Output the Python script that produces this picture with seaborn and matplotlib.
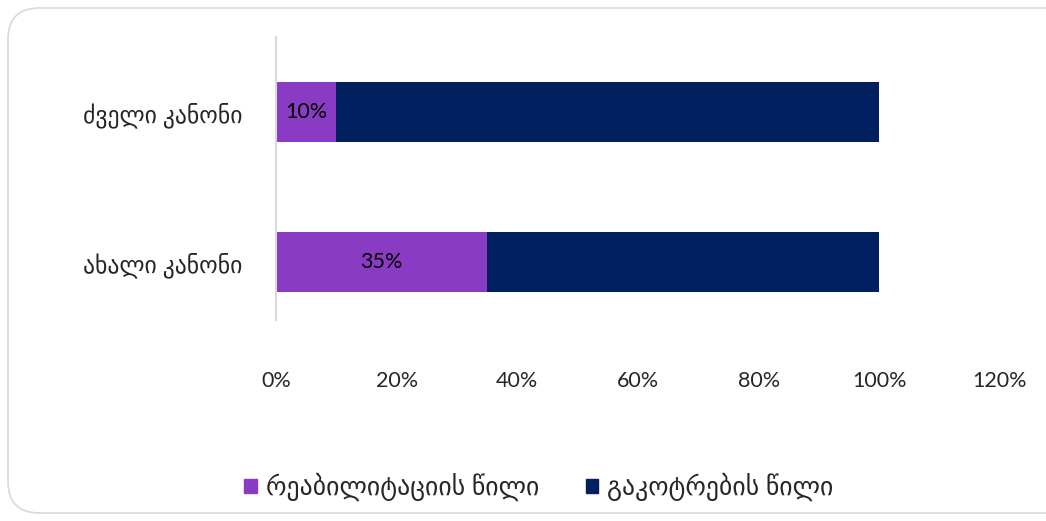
import matplotlib
matplotlib.use("Agg")
import matplotlib.pyplot as plt
from matplotlib.patches import FancyBboxPatch, Patch
import seaborn as sns
import pandas as pd

# data
categories = ["ძველი კანონი", "ახალი კანონი"]
rehab_share = [10, 35]
usage_share = [90, 65]
series_names = ["რეაბილიტაციის წილი", "გაკოტრების წილი"]
x_ticks = [0, 20, 40, 60, 80, 100, 120]

PURPLE = "#8A3BC3"
NAVY = "#002060"

sns.set_theme(style="white")
plt.rcParams["font.family"] = ["Lato", "DejaVu Sans"]

df = pd.DataFrame({
    "category": categories,
    "rehab": rehab_share,
    "usage": usage_share,
})
df["total"] = df["rehab"] + df["usage"]

fig = plt.figure(figsize=(10.46, 5.21), dpi=100)
ax = fig.add_axes([276 / 1046, 1 - 320 / 521, (1000 - 276) / 1046, (320 - 37) / 521])

# stacked: full bar first, rehab share drawn over it
sns.barplot(data=df, y="category", x="total", color=NAVY, width=0.4,
            orient="h", ax=ax, saturation=1, linewidth=0)
sns.barplot(data=df, y="category", x="rehab", color=PURPLE, width=0.4,
            orient="h", ax=ax, saturation=1, linewidth=0)

for i, v in enumerate(df["rehab"]):
    ax.text(v / 2, i, f"{v}%", ha="center", va="center",
            fontsize=15.5, color="black")

ax.set_xlim(0, 120)
ax.set_ylim(1.387, -0.5)
ax.set_xticks(x_ticks)
ax.set_xticklabels([f"{t}%" for t in x_ticks], fontsize=15.5)
ax.tick_params(axis="x", length=0, pad=37)
ax.tick_params(axis="y", length=0, pad=24, labelsize=17)
ax.set_xlabel("")
ax.set_ylabel("")
for s in ["top", "right", "bottom"]:
    ax.spines[s].set_visible(False)
ax.spines["left"].set_color("#D9D9D9")
ax.spines["left"].set_linewidth(1.5)

handles = [Patch(color=PURPLE), Patch(color=NAVY)]
fig.legend(handles, series_names, loc="center", bbox_to_anchor=(539 / 1046, 1 - 487 / 521),
           ncol=2, frameon=False, fontsize=18.5, handlelength=0.5, handleheight=0.5,
           handletextpad=0.35, columnspacing=1.8)

border = FancyBboxPatch((8 / 1046, 8 / 521), 1.05, 1 - 16 / 521,
                        boxstyle="round,pad=0,rounding_size=0.03",
                        transform=fig.transFigure, fill=False,
                        edgecolor="#D9D9D9", linewidth=1.2, mutation_aspect=2)
fig.patches.append(border)

fig.savefig("out.png", dpi=100)
